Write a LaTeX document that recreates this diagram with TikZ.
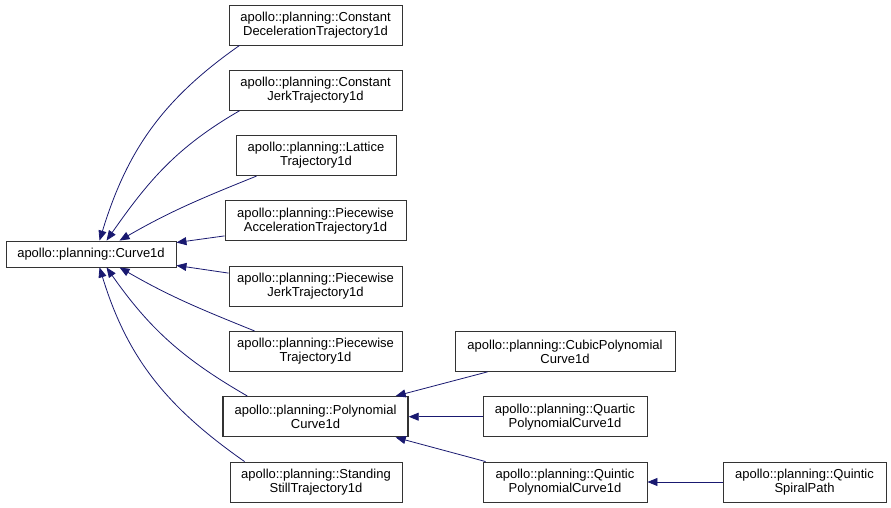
\documentclass[tikz,border=0pt]{standalone}
\usepackage{fontspec}
\setmainfont{Liberation Sans}
\usetikzlibrary{arrows.meta}
\definecolor{edgeblue}{HTML}{191970}
\definecolor{boxline}{HTML}{333333}
\tikzset{
  cls/.style={draw=boxline, line width=0.9pt, inner sep=0pt, align=center,
    font=\fontsize{13}{14}\selectfont, text=black},
  edge/.style={draw=edgeblue, line width=0.8pt, {Triangle[length=10pt,width=8pt]}-},
}
\begin{document}
\begin{tikzpicture}[x=1pt,y=-1pt]
\useasboundingbox (0,0) rectangle (891,508);
% base class
\node[cls, minimum width=170pt, minimum height=26pt] (curve) at (91,254) {apollo::planning::Curve1d};
% column 1
\node[cls, minimum width=173pt, minimum height=40pt] (cd) at (315.5,25) {apollo::planning::Constant\\DecelerationTrajectory1d};
\node[cls, minimum width=173pt, minimum height=40pt] (cj) at (315.5,90.3) {apollo::planning::Constant\\JerkTrajectory1d};
\node[cls, minimum width=160pt, minimum height=40pt] (lat) at (316,155.6) {apollo::planning::Lattice\\Trajectory1d};
\node[cls, minimum width=181pt, minimum height=40pt] (pa) at (315.5,220.9) {apollo::planning::Piecewise\\AccelerationTrajectory1d};
\node[cls, minimum width=173pt, minimum height=40pt] (pj) at (315.5,286.1) {apollo::planning::Piecewise\\JerkTrajectory1d};
\node[cls, minimum width=173pt, minimum height=40pt] (pt) at (315.5,351.4) {apollo::planning::Piecewise\\Trajectory1d};
\node[cls, line width=1.4pt, minimum width=185pt, minimum height=40pt] (poly) at (315.5,416.7) {apollo::planning::Polynomial\\Curve1d};
\node[cls, minimum width=172pt, minimum height=40pt] (ss) at (316,482) {apollo::planning::Standing\\StillTrajectory1d};
% column 2
\node[cls, minimum width=220pt, minimum height=40pt] (cub) at (565,351.4) {apollo::planning::CubicPolynomial\\Curve1d};
\node[cls, minimum width=164pt, minimum height=40pt] (quar) at (565,416.7) {apollo::planning::Quartic\\PolynomialCurve1d};
\node[cls, minimum width=164pt, minimum height=40pt] (quin) at (565,482) {apollo::planning::Quintic\\PolynomialCurve1d};
% column 3
\node[cls, minimum width=163pt, minimum height=40pt] (spi) at (804.5,482) {apollo::planning::Quintic\\SpiralPath};
% edges to Curve1d
\draw[edge] ([xshift=94pt]curve.north west) to[out=73,in=215] ([xshift=11pt]cd.south west);
\draw[edge] ([xshift=101pt]curve.north west) to[out=55,in=210] ([xshift=11pt]cj.south west);
\draw[edge] ([xshift=114pt]curve.north west) to[out=30,in=202] ([xshift=21pt]lat.south west);
\draw[edge] ([yshift=-2pt]curve.north east) -- ([yshift=-15pt]pa.west);
\draw[edge] ([yshift=2pt]curve.south east) -- ([yshift=13pt]pj.west);
\draw[edge] ([xshift=114pt]curve.south west) to[out=-30,in=158] ([xshift=26pt]pt.north west);
\draw[edge] ([xshift=101pt]curve.south west) to[out=-55,in=150] ([xshift=25pt]poly.north west);
\draw[edge] ([xshift=94pt]curve.south west) to[out=-73,in=145] ([xshift=15pt]ss.north west);
% edges to Polynomial
\draw[edge] ([xshift=-13pt]poly.north east) -- ([xshift=33pt]cub.south west);
\draw[edge] (poly.east) -- (quar.west);
\draw[edge] ([xshift=-13pt]poly.south east) -- ([xshift=3pt]quin.north west);
% edge to Quintic
\draw[edge] (quin.east) -- (spi.west);
\end{tikzpicture}
\end{document}
